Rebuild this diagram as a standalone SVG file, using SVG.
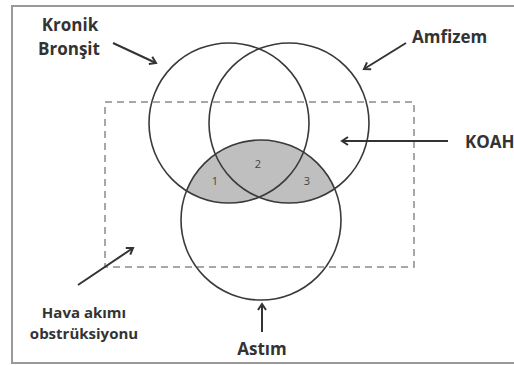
<svg xmlns="http://www.w3.org/2000/svg" width="514" height="365" viewBox="0 0 514 365">
<style>
.lbl{font-family:"Open Sans","Liberation Sans",sans-serif;font-weight:bold;fill:#333;font-size:17px}
.sm{font-size:15px}
.num{font-family:"Open Sans","Liberation Sans",sans-serif;font-size:11px;fill:#444}
.c{fill:none;stroke:#3a3a3a;stroke-width:1.6}
.arr{stroke:#333;stroke-width:2;fill:none;marker-end:url(#ah)}
</style>
<defs>
<marker id="ah" markerWidth="10" markerHeight="10" refX="7" refY="5" orient="auto" markerUnits="userSpaceOnUse">
<path d="M1,1 L7,5 L1,9" fill="none" stroke="#333" stroke-width="2"/>
</marker>
<clipPath id="clipB"><circle cx="261" cy="220" r="80"/></clipPath>
</defs>
<rect x="0" y="0" width="514" height="365" fill="#fff"/>
<rect x="12" y="6" width="520" height="357" fill="none" stroke="#999" stroke-width="2"/>
<g id="hava-akimi">
<rect x="105" y="102" width="309" height="165" fill="none" stroke="#8a8a8a" stroke-width="1.5" stroke-dasharray="7,5"/>
</g>
<g id="shaded" clip-path="url(#clipB)">
<circle cx="229" cy="123" r="80" fill="#bfbfbf"/>
<circle cx="289" cy="123" r="80" fill="#bfbfbf"/>
</g>
<g id="kronik-bronsit"><circle class="c" cx="229" cy="123" r="80"/></g>
<g id="amfizem"><circle class="c" cx="289" cy="123" r="80"/></g>
<g id="astim"><circle class="c" cx="261" cy="220" r="80"/></g>
<g id="regions">
<text class="num" x="215" y="185" text-anchor="middle">1</text>
<text class="num" x="258" y="168" text-anchor="middle">2</text>
<text class="num" x="307" y="185" text-anchor="middle">3</text>
</g>
<g id="connectors">
<line class="arr" x1="113" y1="43" x2="156" y2="63"/>
<line class="arr" x1="406" y1="43" x2="364" y2="69"/>
<line class="arr" x1="448" y1="141" x2="342" y2="141"/>
<line class="arr" x1="78" y1="285" x2="133" y2="248"/>
<line class="arr" x1="262" y1="332" x2="262" y2="304"/>
</g>
<g id="labels">
<text class="lbl" x="70" y="31" text-anchor="middle">Kronik</text>
<text class="lbl" x="69" y="55" text-anchor="middle">Bronşit</text>
<text class="lbl" x="412" y="43">Amfizem</text>
<text class="lbl" x="465" y="148">KOAH</text>
<text class="lbl sm" x="84" y="318" text-anchor="middle">Hava akımı</text>
<text class="lbl sm" x="84" y="339" text-anchor="middle">obstrüksiyonu</text>
<text class="lbl" x="262" y="355" text-anchor="middle">Astım</text>
</g>
</svg>
